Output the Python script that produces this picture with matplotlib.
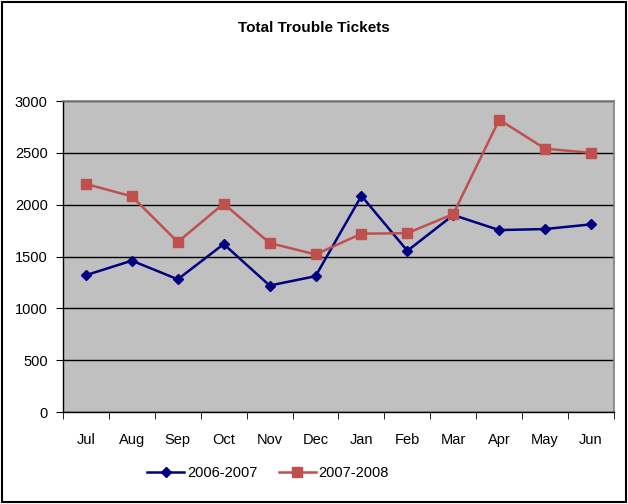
import matplotlib
matplotlib.use("Agg")
import matplotlib.pyplot as plt
from matplotlib.patches import Rectangle
import numpy as np

months = ["Jul", "Aug", "Sep", "Oct", "Nov", "Dec", "Jan", "Feb", "Mar", "Apr", "May", "Jun"]
s2006 = [1320, 1460, 1280, 1620, 1220, 1310, 2085, 1555, 1900, 1755, 1765, 1810]
s2007 = [2200, 2080, 1640, 2010, 1630, 1520, 1720, 1725, 1910, 2820, 2540, 2500]
yticks = [0, 500, 1000, 1500, 2000, 2500, 3000]

plt.rcParams['font.family'] = ['Liberation Sans', 'DejaVu Sans']

fig = plt.figure(figsize=(6.28, 5.04), dpi=100)
ax = fig.add_axes([0.1003, 0.1825, 0.8774, 0.6171])
ax.set_facecolor('#C0C0C0')

x = np.arange(len(months))
ax.plot(x, s2006, color='#000080', lw=1.8, marker='D', ms=5.5, label='2006-2007', zorder=3)
ax.plot(x, s2007, color='#C0504D', lw=1.8, marker='s', ms=7, label='2007-2008', zorder=3)

ax.set_xlim(-0.5, len(months) - 0.5)
ax.set_ylim(0, 3000)
ax.set_yticks(yticks)
ax.set_yticklabels([str(v) for v in yticks], fontsize=10.5)
ax.yaxis.grid(True, color='black', lw=1)
ax.set_axisbelow(True)

ax.set_xticks(x)
ax.set_xticklabels(months, fontsize=10.5)
ax.tick_params(axis='x', which='major', length=0, pad=15)
ax.set_xticks(np.arange(-0.5, len(months)), minor=True)
ax.tick_params(axis='x', which='minor', length=5, direction='out', color='black')
ax.tick_params(axis='y', length=5, direction='out', color='black', pad=6)

for side in ['top', 'right']:
    ax.spines[side].set_color('#808080')
    ax.spines[side].set_linewidth(1.2)
for side in ['left', 'bottom']:
    ax.spines[side].set_color('black')
    ax.spines[side].set_linewidth(1)

fig.text(0.5, 0.944, "Total Trouble Tickets", ha='center', va='center', fontsize=11, fontweight='bold')

leg = fig.legend(loc='center', bbox_to_anchor=(0.427, 0.0615), ncol=2, frameon=False,
                 fontsize=10.5, handlelength=2.5, columnspacing=1.5, handletextpad=0.2)

fig.patches.append(Rectangle((0.003, 0.003), 0.994, 0.994, transform=fig.transFigure,
                             fill=False, edgecolor='black', lw=1.5))

fig.savefig('out.png', dpi=100)
